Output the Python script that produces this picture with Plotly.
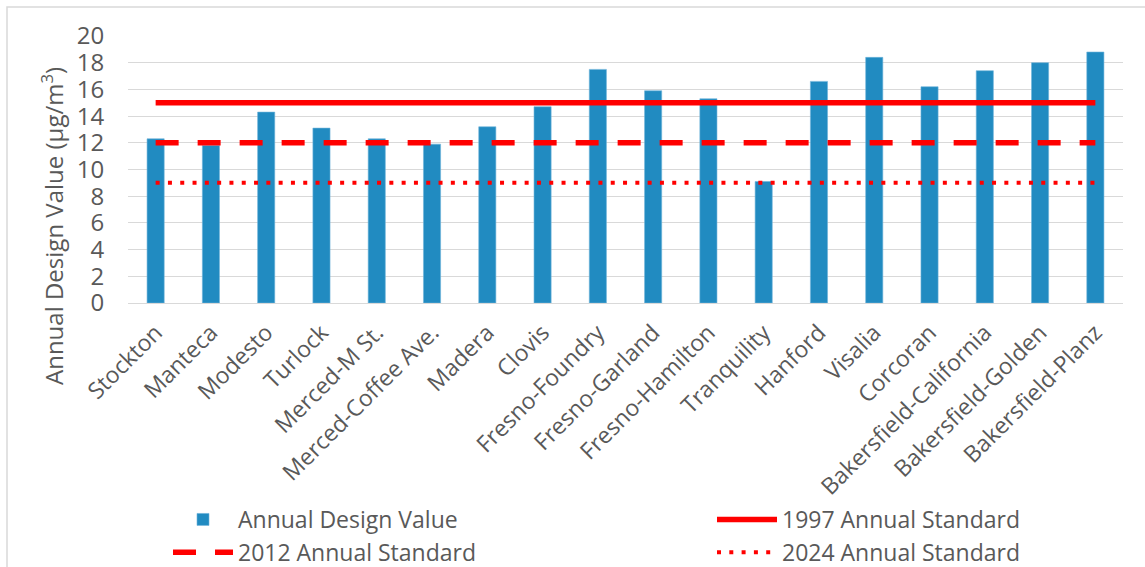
import plotly.graph_objects as go

# Monitoring sites and their annual PM2.5 design values (µg/m³)
sites = [
    "Stockton", "Manteca", "Modesto", "Turlock", "Merced-M St.",
    "Merced-Coffee Ave.", "Madera", "Clovis", "Fresno-Foundry",
    "Fresno-Garland", "Fresno-Hamilton", "Tranquility", "Hanford",
    "Visalia", "Corcoran", "Bakersfield-California", "Bakersfield-Golden",
    "Bakersfield-Planz",
]
design_values = [
    12.3, 11.8, 14.3, 13.1, 12.3,
    11.9, 13.2, 14.7, 17.5,
    15.9, 15.3, 9.1, 16.6,
    18.4, 16.2, 17.4, 18.0,
    18.8,
]

# National annual standards
std_1997 = 15
std_2012 = 12
std_2024 = 9

y_ticks = [0, 2, 4, 6, 8, 10, 12, 14, 16, 18, 20]

FONT = "Open Sans"
GRAY = "#595959"
RED = "#FF0000"

fig = go.Figure()

fig.add_trace(go.Bar(
    x=sites, y=design_values, name="Annual Design Value",
    marker=dict(color="#218BC1", line=dict(color="#6FB4DA", width=0.6)),
    width=0.31, legend="legend",
))
fig.add_trace(go.Scatter(
    x=sites, y=[std_1997] * len(sites), name="1997 Annual Standard",
    mode="lines", line=dict(color=RED, width=5.5), legend="legend2",
))
fig.add_trace(go.Scatter(
    x=sites, y=[std_2012] * len(sites), name="2012 Annual Standard",
    mode="lines", line=dict(color=RED, width=5.5, dash="23px,19px"),
    legend="legend",
))
fig.add_trace(go.Scatter(
    x=sites, y=[std_2024] * len(sites), name="2024 Annual Standard",
    mode="lines", line=dict(color=RED, width=4, dash="4px,8.3px"),
    legend="legend2",
))

W, H = 1145, 567
L, R, T, B = 128, 22, 36, 264
pw, ph = W - L - R, H - T - B

def px_x(x):
    return (x - L) / pw

def px_y(y):
    return (H - B - y) / ph

legend_style = dict(
    orientation="v", xref="container", yref="container",
    xanchor="left", yanchor="top",
    font=dict(family=FONT, size=23, color=GRAY),
    itemwidth=60, tracegroupgap=0, traceorder="normal",
    bgcolor="rgba(0,0,0,0)",
)

fig.update_layout(
    width=W, height=H,
    margin=dict(l=L, r=R, t=T, b=B, pad=0, autoexpand=False),
    paper_bgcolor="white", plot_bgcolor="white",
    font=dict(family=FONT, color=GRAY, size=22),
    showlegend=True,
    legend=dict(legend_style, x=168 / W, y=1 - 498 / H),
    legend2=dict(legend_style, x=712 / W, y=1 - 498 / H),
    xaxis=dict(
        type="category", tickangle=-45, showgrid=False, automargin=False,
        tickfont=dict(family=FONT, size=23, color=GRAY),
        showline=False, ticks="outside", ticklen=6,
        tickcolor="rgba(0,0,0,0)",
    ),
    yaxis=dict(
        range=[0, 20], tickvals=y_ticks, showgrid=True, automargin=False,
        gridcolor="#D9D9D9", gridwidth=1.2, zeroline=True,
        zerolinecolor="#D9D9D9", zerolinewidth=1.2,
        tickfont=dict(family=FONT, size=24, color=GRAY),
        ticks="outside", ticklen=18, tickcolor="rgba(0,0,0,0)",
        showline=False,
    ),
    annotations=[dict(
        text="Annual Design Value (µg/m<sup>3</sup>)",
        xref="paper", yref="paper",
        x=px_x(52), y=px_y(226), xanchor="center", yanchor="middle",
        textangle=-90, showarrow=False,
        font=dict(family=FONT, size=24, color=GRAY),
    )],
    shapes=[dict(
        type="rect", xref="paper", yref="paper",
        x0=px_x(7), x1=px_x(1152), y0=px_y(575), y1=px_y(7),
        line=dict(color="#D9D9D9", width=1.5), layer="below",
    )],
)

fig.write_html("out.html")
